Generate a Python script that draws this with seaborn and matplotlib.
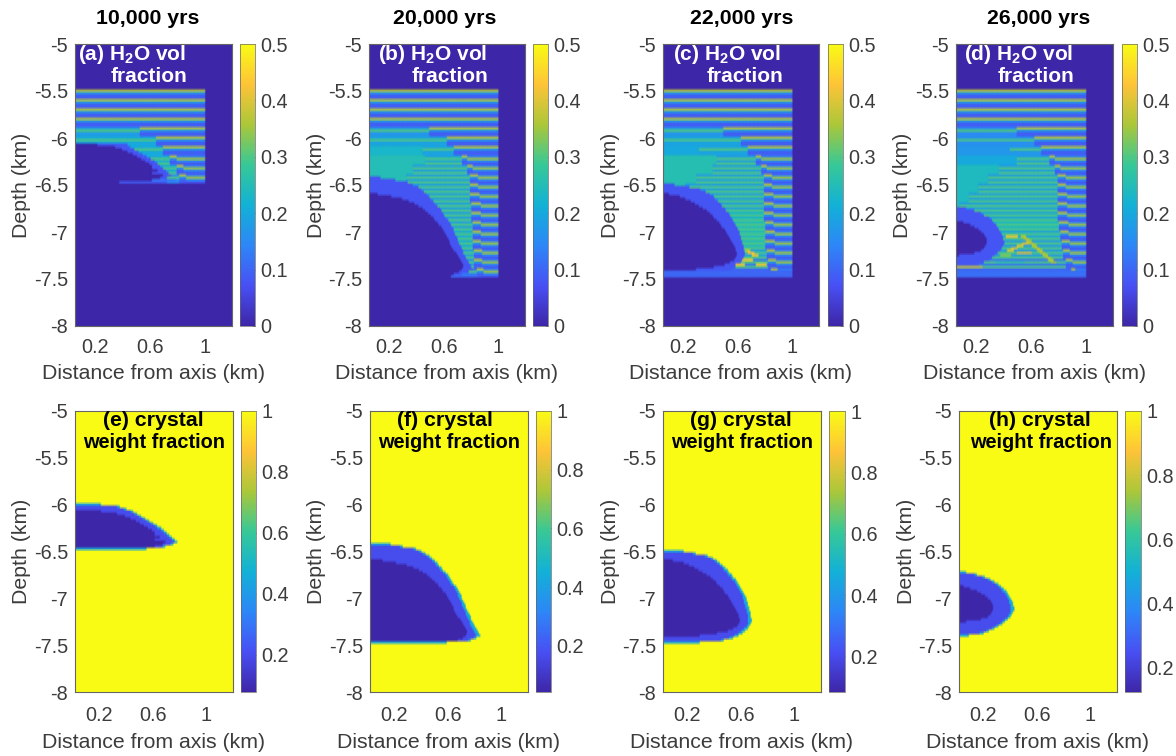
import matplotlib
matplotlib.use('Agg')

import matplotlib.pyplot as plt
import seaborn as sns
import numpy as np
from matplotlib.colors import LinearSegmentedColormap

W, H = 1176, 756

PARULA = ['#3e26a8', '#4850f4', '#2d87f7', '#12b1d6', '#37c897', '#abc739', '#fec338', '#f9fb15']

TITLES = ['10,000 yrs', '20,000 yrs', '22,000 yrs', '26,000 yrs']
DEPTH_TICKS = [-5, -5.5, -6, -6.5, -7, -7.5, -8]
DEPTH_LABELS = ['-5', '-5.5', '-6', '-6.5', '-7', '-7.5', '-8']
DIST_TICKS = [0.2, 0.6, 1]
DIST_LABELS = ['0.2', '0.6', '1']
H2O_CBAR_TICKS = [0, 0.1, 0.2, 0.3, 0.4, 0.5]
H2O_CBAR_LABELS = ['0', '0.1', '0.2', '0.3', '0.4', '0.5']
XTAL_CBAR_TICKS = [0.2, 0.4, 0.6, 0.8, 1]
XTAL_CBAR_LABELS = ['0.2', '0.4', '0.6', '0.8', '1']
XTAL_VMIN = [0.078, 0.043, 0.084, 0.125]

# melt body edges (km from axis) per 0.025 km depth row, top of each list at *_top
top_e, core_top_e = -6.0, -6.075
outer_e = [.22, .36, .41, .46, .49, .52, .55, .58, .61, .64, .665, .69, .71, .73, .75, .77, .79, .76, .70, .56]
core_e = [.22, .34, .40, .44, .48, .51, .54, .57, .60, .62, .62, .66, .62, .70, .68, .62]

top_f, core_top_f = -6.425, -6.6
outer_f = [.17, .27, .37, .41, .44, .47, .49, .51, .53, .54, .56, .57, .59, .61, .62, .63, .64, .65, .67, .68, .69, .70,
           .705, .71, .72, .73, .735, .74, .75, .76, .765, .775, .78, .79, .795, .805, .815, .825, .835, .845, .82, .78, .60]
core_f = [.12, .22, .30, .35, .39, .42, .45, .47, .49, .51, .53, .54, .56, .57, .585, .60, .61, .62, .63, .64, .645, .65,
          .66, .67, .68, .695, .705, .715, .725, .735, .745, .75, .74, .72, .68]

top_g, core_top_g = -6.5, -6.6
outer_g = [.17, .27, .36, .40, .43, .45, .47, .49, .505, .52, .535, .55, .565, .58, .59, .60, .61, .62, .63, .64, .645,
           .65, .655, .66, .665, .67, .675, .68, .68, .685, .685, .68, .67, .655, .635, .615, .585, .545, .48, .30]
core_g = [.10, .18, .22, .26, .29, .32, .35, .375, .40, .415, .43, .45, .465, .48, .49, .505, .52, .53, .54, .55, .555,
          .565, .575, .585, .59, .595, .595, .59, .58, .55, .51, .43, .30]

top_h, core_top_h = -6.725, -6.875
outer_h = [.08, .16, .22, .26, .29, .32, .34, .36, .375, .39, .40, .41, .42, .425, .43, .435, .435, .43, .42, .41, .39,
           .37, .35, .32, .29, .25, .20, .10]
core_h = [.06, .11, .16, .19, .22, .24, .255, .265, .275, .28, .28, .27, .255, .235, .19, .08]

# H2O layers, one entry per 0.1 km sill starting at -5.5 km
break_a = [0, 0, 0, 0, .53, .65, .70, .75, .80, .82]
blob_a = [0, 0, 0, 0, 0, 0, 0, .80, .85, .87]
fill_a = [0, 0, 0, 0, 0, 0, 0, 0, 0, 0]
fillval_a = [0, 0, 0, 0, 0, 0, 0, 0, 0, 0]
gap_a = [.1, .1, .1, .1, .18, .2, .2, .2, .2, .15]

break_b = [0, 0, 0, 0, .50, .63, .68, .74, .78, .80, .80, .80, .81, .81, .82, .82, .82, .83, .83, .85]
blob_b = [0, 0, 0, 0, 0, 0, 0, .78, .82, .86, .86, .87, .88, .88, .88, .88, .88, .89, .89, .90]
fill_b = [0, 0, 0, 0, 0, 0, .45, .47, .38, .33, 0, 0, 0, 0, 0, 0, 0, 0, 0, 0]
fillval_b = [0, 0, 0, 0, 0, 0, .23, .25, .25, .25, 0, 0, 0, 0, 0, 0, 0, 0, 0, 0]
gap_b = [.1, .1, .1, .1, .17, .19, .19, .19, .18, .18, .18, .18, .18, .18, .18, .2, .2, .18, .16, .1]

break_c = [0, 0, 0, 0, .50, .63, .68, .74, .78, .80, .80, .80, .80, .80, .81, .81, .81, .82, .83, .85]
blob_c = [0, 0, 0, 0, 0, 0, 0, .78, .82, .86, .86, .87, .87, .87, .87, .88, .88, .88, .89, .90]
fill_c = [0, 0, 0, 0, 0, 0, .32, .45, .42, .30, .22, 0, 0, 0, 0, 0, 0, 0, 0, 0]
fillval_c = [0, 0, 0, 0, 0, 0, .20, .255, .255, .255, .255, 0, 0, 0, 0, 0, 0, 0, 0, 0]
gap_c = [.1, .1, .1, .1, .17, .19, .19, .18, .18, .18, .18, .18, .18, .22, .24, .24, .24, .18, .12, .1]

break_d = [0, 0, 0, 0, .50, .63, .68, .74, .78, .80, .80, .80, .80, .80, .81, .82, .83, .84, .86, .90]
blob_d = [0, 0, 0, 0, 0, 0, 0, .78, .82, .86, .86, .87, .87, .87, .88, .88, .89, .89, .91, .93]
fill_d = [0, 0, 0, 0, 0, 0, .45, .50, .37, .29, .22, .15, .08, 0, 0, 0, 0, 0, 0, 0]
fillval_d = [0, 0, 0, 0, 0, 0, .17, .20, .24, .24, .24, .24, .24, 0, 0, 0, 0, 0, 0, 0]
gap_d = [.1, .1, .1, .1, .15, .16, .17, .18, .18, .18, .18, .18, .18, .19, .23, .19, .17, .17, .12, .1]

# short segments crossing the sills: depth, from, to, value
streak_depth_a = [-6.475, -6.475, -6.45]
streak_from_a = [.05, .38, .62]
streak_to_a = [.38, .72, .78]
streak_val_a = [0, .09, .12]

streak_depth_b = [-7.475, -7.475, -7.45]
streak_from_b = [.05, .66, .74]
streak_to_b = [.66, .85, .84]
streak_val_b = [0, .11, .13]

streak_depth_c = [-7.225, -7.25, -7.2, -7.3, -7.35, -7.35, -7.425, -7.45, -7.475]
streak_from_c = [.68, .71, .66, .64, .59, .74, .05, .05, .05]
streak_to_c = [.72, .75, .69, .71, .65, .81, 1.0, 1.0, 1.0]
streak_val_c = [.43, .42, .38, .43, .42, .42, .10, .10, .10]

streak_depth_d = [-6.975, -7.05, -7.05, -7.075, -7.1, -7.125, -7.15, -7.175, -7.2, -7.225, -7.25, -7.275, -7.3, -7.325,
                  -7.2, -7.175, -7.15, -7.125, -7.225, -7.25, -7.325, -7.375, -7.425, -7.45, -7.475]
streak_from_d = [.42, .42, .53, .55, .57, .59, .61, .63, .65, .67, .69, .71, .73, .75,
                 .43, .46, .50, .54, .50, .38, .35, .05, .05, .05, .05]
streak_to_d = [.49, .50, .56, .58, .60, .62, .64, .66, .68, .70, .72, .74, .76, .78,
               .47, .50, .54, .58, .60, .45, .55, .24, 1.0, 1.0, 1.0]
streak_val_d = [.30, .42, .36, .36, .36, .36, .36, .36, .36, .36, .36, .36, .36, .36,
                .40, .40, .40, .40, .40, .33, .28, .38, .11, .11, .11]

# label positions in picture pixels
LABEL_H2O = ['(a)', '(b)', '(c)', '(d)']
LABEL_XTAL = ['(e) crystal', '(f) crystal', '(g) crystal', '(h) crystal']
H2O_LINE1_X = [78, 378, 673, 964]
H2O_LINE2_X = [149, 450, 745, 1036]
XTAL_LINE1_X = [153, 445, 741, 1040]
XTAL_LINE2_X = [154, 449, 742, 1041]
TITLE_X = [148, 445, 742, 1039]

TOP_AX = [(75, 232, 240, 255), (369, 525, 533, 548), (663, 819, 828, 843), (956, 1113, 1122, 1137)]
BOT_AX = [(75, 233, 241, 256), (370, 528, 536, 551), (663, 821, 829, 845), (959, 1117, 1125, 1141)]

INK = '#3c3c3c'
parula = LinearSegmentedColormap.from_list('parula', PARULA)

depth_nodes = -5 - 0.025 * np.arange(121)


def row_of(depth):
    return int(round((-5 - depth) / 0.025))


def h2o_matrix(x, breaks, blobs, fills, fillvals, gaps, outer, top, core, core_top, streaks):
    m = np.zeros((len(depth_nodes), len(x)))
    for k, brk in enumerate(breaks):
        r = 20 + 4 * k
        left = x < brk
        right = (x >= brk) & (x <= 1.0 + 1e-9)
        m[r:r + 4, left] = gaps[k]
        m[r + 1, left] = 0.30
        if 7 <= k < len(breaks) - 1:
            m[r + 3, left] = 0.30
        m[r, right] = 0.37
        m[r + 1, right] = 0.17
        m[r + 2:r + 4, right] = 0.09
        if blobs[k] > 0:
            tail = (x >= blobs[k]) & (x <= 1.0 + 1e-9)
            m[r, tail] = 0.13
            m[r + 1, tail] = 0.35
            m[r + 2, tail] = 0.15
            m[r + 3, tail] = 0.08
        m[r:r + 4, x < fills[k]] = fillvals[k]
    # melt body on top of the sills
    for i, edge in enumerate(outer):
        m[row_of(top) + i, x < edge - 0.03] = 0.08
    for i, edge in enumerate(core):
        m[row_of(core_top) + i, x < edge] = 0
    for d, x0, x1, v in zip(*streaks):
        m[row_of(d), (x >= x0) & (x <= x1 + 1e-9)] = v
    return m


def crystal_matrix(x, vmin, outer, top, core, core_top):
    m = np.ones((len(depth_nodes), len(x)))
    band = vmin + 0.13 * (1 - vmin)
    rim = vmin + 0.40 * (1 - vmin)
    for i, edge in enumerate(outer):
        r = row_of(top) + i
        m[r, x < edge] = rim
        if 0 < i < len(outer) - 1:
            m[r, x < edge - 0.025] = band
    for i, edge in enumerate(core):
        m[row_of(core_top) + i, x < edge] = vmin
    return m


def px_axes(fig, x0, x1, y0, y1):
    return fig.add_axes([x0 / W, 1 - y1 / H, (x1 - x0) / W, (y1 - y0) / H])


def draw_panel(fig, box, y0, y1, matrix, x, vmin, vmax, cticks, clabels, xpad, xlabel_drop):
    ax = px_axes(fig, box[0], box[1], y0, y1)
    cax = px_axes(fig, box[2], box[3], y0, y1)
    sns.heatmap(matrix, ax=ax, cbar_ax=cax, cmap=parula, vmin=vmin, vmax=vmax,
                shading='gouraud', xticklabels=False, yticklabels=False)
    nrows, ncols = matrix.shape
    ax.set_xlim(0, ncols - 1)
    ax.set_ylim(nrows - 1, 0)
    ax.set_xticks([(t - x[0]) / 0.01 for t in DIST_TICKS])
    ax.set_xticklabels(DIST_LABELS)
    ax.set_yticks([(-5 - t) / 0.025 for t in DEPTH_TICKS])
    ax.set_yticklabels(DEPTH_LABELS)
    ax.tick_params(direction='in', length=2.5, width=0.6, color='#555555', labelcolor=INK,
                   labelsize=14.3, top=True, right=True)
    ax.tick_params(axis='y', pad=5)
    ax.tick_params(axis='x', pad=xpad)
    for s in ax.spines.values():
        s.set_visible(True)
        s.set_linewidth(0.8)
        s.set_color('#666666')
    ax.set_xlabel('Distance from axis (km)', fontsize=15.3, color=INK, va='center')
    ax.xaxis.set_label_coords(0.5, -xlabel_drop / (y1 - y0))
    ax.set_ylabel('Depth (km)', fontsize=15.3, color=INK, va='center')
    ax.yaxis.set_label_coords(-53 / (box[1] - box[0]), 0.5)

    cax.set_yticks(cticks)
    cax.set_yticklabels(clabels)
    cax.tick_params(direction='in', length=2, width=0.5, color='#555555', labelcolor=INK, labelsize=14.3, pad=4)
    ax.collections[0].colorbar.outline.set_linewidth(0.5)
    ax.collections[0].colorbar.outline.set_edgecolor('#666666')
    return ax


sns.set_theme(style='white')
plt.rcParams['font.family'] = ['Liberation Sans', 'DejaVu Sans']
plt.rcParams['mathtext.fontset'] = 'custom'
plt.rcParams['mathtext.bf'] = 'Liberation Sans:bold'
plt.rcParams['mathtext.rm'] = 'Liberation Sans'

x_top = 0.05 + 0.01 * np.arange(116)
x_bot = 0.02 + 0.01 * np.arange(119)

fig = plt.figure(figsize=(W / 100, H / 100), dpi=100, facecolor='white')

h2o_panels = [
    h2o_matrix(x_top, break_a, blob_a, fill_a, fillval_a, gap_a, outer_e[3:], core_top_e, core_e, core_top_e,
               (streak_depth_a, streak_from_a, streak_to_a, streak_val_a)),
    h2o_matrix(x_top, break_b, blob_b, fill_b, fillval_b, gap_b, outer_f, top_f, core_f, core_top_f,
               (streak_depth_b, streak_from_b, streak_to_b, streak_val_b)),
    h2o_matrix(x_top, break_c, blob_c, fill_c, fillval_c, gap_c, outer_g, top_g, core_g, core_top_g,
               (streak_depth_c, streak_from_c, streak_to_c, streak_val_c)),
    h2o_matrix(x_top, break_d, blob_d, fill_d, fillval_d, gap_d, outer_h, top_h, core_h, core_top_h,
               (streak_depth_d, streak_from_d, streak_to_d, streak_val_d)),
]
xtal_panels = [
    crystal_matrix(x_bot, XTAL_VMIN[0], outer_e, top_e, core_e, core_top_e),
    crystal_matrix(x_bot, XTAL_VMIN[1], outer_f, top_f, core_f, core_top_f),
    crystal_matrix(x_bot, XTAL_VMIN[2], outer_g, top_g, core_g, core_top_g),
    crystal_matrix(x_bot, XTAL_VMIN[3], outer_h, top_h, core_h, core_top_h),
]

for i in range(4):
    draw_panel(fig, TOP_AX[i], 44, 326, h2o_panels[i], x_top, 0, 0.5, H2O_CBAR_TICKS, H2O_CBAR_LABELS, 8.5, 48)
    draw_panel(fig, BOT_AX[i], 411, 692, xtal_panels[i], x_bot, XTAL_VMIN[i], 1, XTAL_CBAR_TICKS, XTAL_CBAR_LABELS, 10, 50)

    fig.text(TITLE_X[i] / W, 1 - 19 / H, TITLES[i], ha='center', va='center',
             fontsize=15.3, fontweight='bold', color='black')
    fig.text(H2O_LINE1_X[i] / W, 1 - 55 / H, LABEL_H2O[i] + r' H$\mathbf{_2}$O vol', ha='left', va='center',
             fontsize=15, fontweight='bold', color='white')
    fig.text(H2O_LINE2_X[i] / W, 1 - 77 / H, 'fraction', ha='center', va='center',
             fontsize=15, fontweight='bold', color='white')
    fig.text(XTAL_LINE1_X[i] / W, 1 - 421 / H, LABEL_XTAL[i], ha='center', va='center',
             fontsize=15.3, fontweight='bold', color='black')
    fig.text(XTAL_LINE2_X[i] / W, 1 - 443 / H, 'weight fraction', ha='center', va='center',
             fontsize=14.4, fontweight='bold', color='black')

fig.savefig('out.png', dpi=100)
plt.close(fig)
